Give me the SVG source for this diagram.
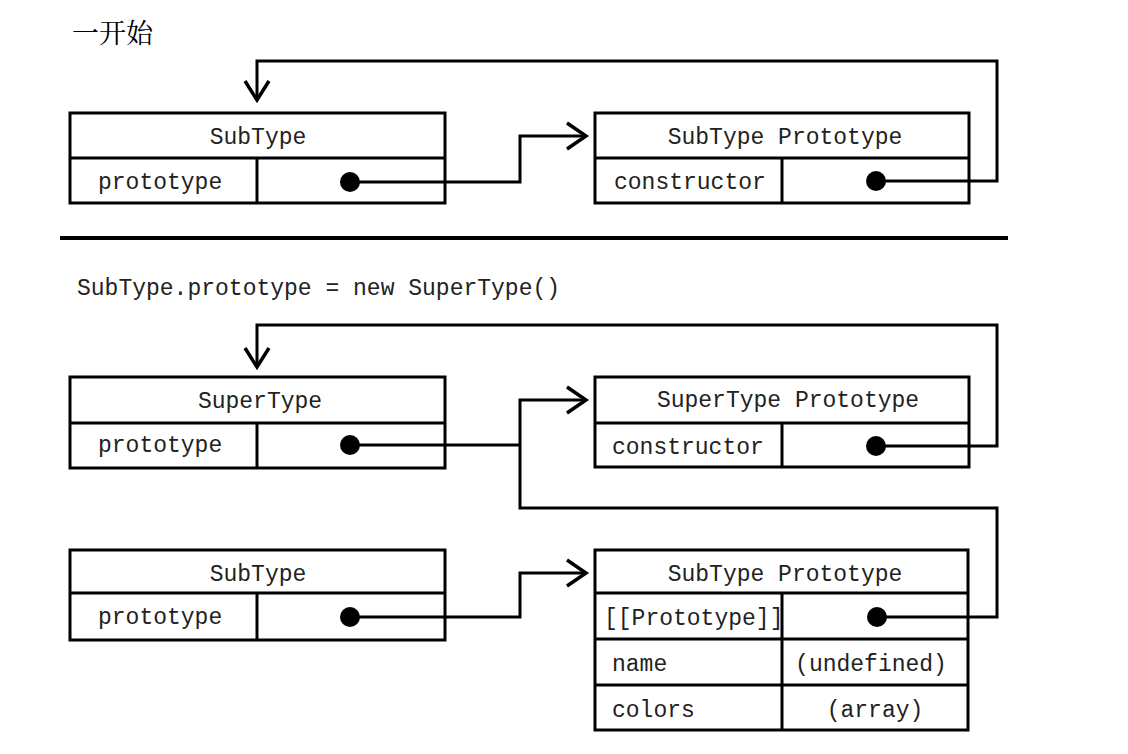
<svg xmlns="http://www.w3.org/2000/svg" width="1128" height="754" viewBox="0 0 1128 754">
<style>
.box{fill:#fff;stroke:#000;stroke-width:3}
.ln{fill:none;stroke:#000;stroke-width:3}
.wire{fill:none;stroke:#000;stroke-width:3;stroke-linejoin:miter}
.head{fill:none;stroke:#000;stroke-width:3.5;stroke-linejoin:miter}
.t{font-family:"Liberation Mono","Courier New",monospace;font-size:23px;fill:#222}
.c{text-anchor:middle}
.dot{fill:#000}
</style>
<rect width="1128" height="754" fill="#fff"/>
<text x="72" y="43" font-family="'Noto Serif CJK SC','Noto Sans CJK SC',serif" font-size="27" fill="#000">一开始</text>
<line x1="60" y1="238" x2="1008" y2="238" stroke="#000" stroke-width="4"/>
<text class="t" x="77" y="295">SubType.prototype = new SuperType()</text>

<g id="subtype1">
  <rect class="box" x="70" y="113" width="375" height="90"/>
  <line class="ln" x1="70" y1="158" x2="445" y2="158"/>
  <line class="ln" x1="257" y1="158" x2="257" y2="203"/>
  <text class="t c" x="258" y="144">SubType</text>
  <text class="t" x="98" y="189">prototype</text>
</g>

<g id="subtypeproto1">
  <rect class="box" x="595" y="113" width="374" height="90"/>
  <line class="ln" x1="595" y1="158" x2="969" y2="158"/>
  <line class="ln" x1="782" y1="158" x2="782" y2="203"/>
  <text class="t c" x="785" y="144">SubType Prototype</text>
  <text class="t" x="614" y="189">constructor</text>
</g>

<g id="supertype">
  <rect class="box" x="70" y="377" width="375" height="91"/>
  <line class="ln" x1="70" y1="423" x2="445" y2="423"/>
  <line class="ln" x1="257" y1="423" x2="257" y2="468"/>
  <text class="t c" x="260" y="408">SuperType</text>
  <text class="t" x="98" y="452">prototype</text>
</g>

<g id="supertypeproto">
  <rect class="box" x="595" y="377" width="374" height="90"/>
  <line class="ln" x1="595" y1="423" x2="969" y2="423"/>
  <line class="ln" x1="782" y1="423" x2="782" y2="467"/>
  <text class="t c" x="788" y="407">SuperType Prototype</text>
  <text class="t" x="612" y="454">constructor</text>
</g>

<g id="subtype2">
  <rect class="box" x="70" y="550" width="375" height="90"/>
  <line class="ln" x1="70" y1="593" x2="445" y2="593"/>
  <line class="ln" x1="257" y1="593" x2="257" y2="640"/>
  <text class="t c" x="258" y="581">SubType</text>
  <text class="t" x="98" y="624">prototype</text>
</g>

<g id="subtypeproto2">
  <rect class="box" x="595" y="550" width="373" height="180"/>
  <line class="ln" x1="595" y1="593" x2="968" y2="593"/>
  <line class="ln" x1="595" y1="639" x2="968" y2="639"/>
  <line class="ln" x1="595" y1="685" x2="968" y2="685"/>
  <line class="ln" x1="782" y1="593" x2="782" y2="730"/>
  <text class="t c" x="785" y="581">SubType Prototype</text>
  <text class="t" x="604" y="625">[[Prototype]]</text>
  <text class="t" x="612" y="671">name</text>
  <text class="t c" x="871" y="671">(undefined)</text>
  <text class="t" x="612" y="717">colors</text>
  <text class="t c" x="875" y="717">(array)</text>
</g>

<g id="connectors">
  <polyline class="wire" points="350,182 520,182 520,136 585,136"/>
  <polyline class="head" points="567,123 586,136 567,149"/>
  <polyline class="wire" points="876,181 997,181 997,61 257,61 257,99"/>
  <polyline class="head" points="245,81 257,100 269,81"/>

  <polyline class="wire" points="350,445 520,445"/>
  <polyline class="wire" points="585,400 520,400 520,508 997,508 997,617 877,617"/>
  <polyline class="head" points="567,387 586,400 567,413"/>
  <polyline class="wire" points="876,446 997,446 997,325 257,325 257,366"/>
  <polyline class="head" points="245,348 257,367 269,348"/>

  <polyline class="wire" points="350,617 520,617 520,573 585,573"/>
  <polyline class="head" points="567,560 586,573 567,586"/>

  <circle class="dot" cx="350" cy="182" r="10"/>
  <circle class="dot" cx="876" cy="181" r="10"/>
  <circle class="dot" cx="350" cy="445" r="10"/>
  <circle class="dot" cx="876" cy="446" r="10"/>
  <circle class="dot" cx="350" cy="617" r="10"/>
  <circle class="dot" cx="877" cy="617" r="10"/>
</g>
</svg>
